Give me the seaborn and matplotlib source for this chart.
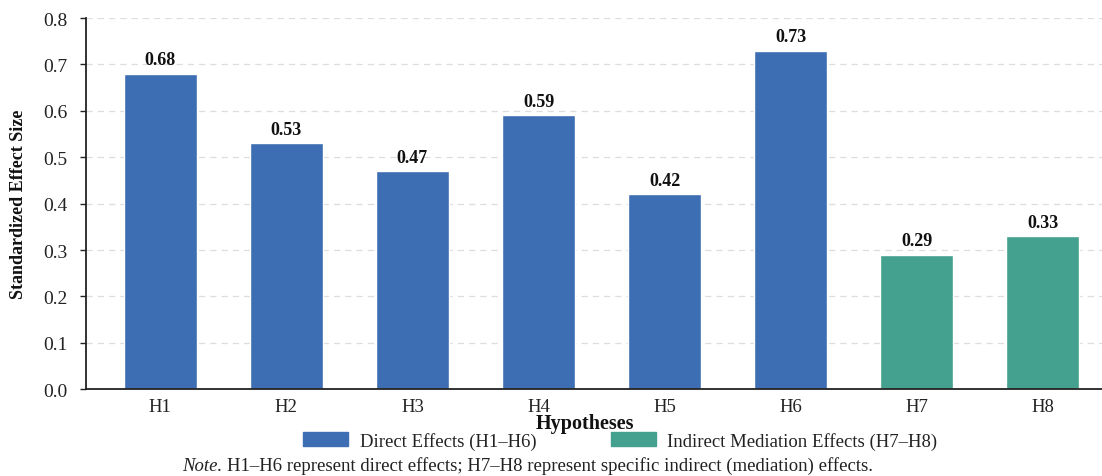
import matplotlib
matplotlib.use("Agg")
import matplotlib.pyplot as plt
import seaborn as sns
import pandas as pd
from matplotlib.patches import Patch

hypotheses = ["H1", "H2", "H3", "H4", "H5", "H6", "H7", "H8"]
effects = [0.68, 0.53, 0.47, 0.59, 0.42, 0.73, 0.29, 0.33]
groups = ["Direct Effects (H1\u2013H6)"] * 6 + ["Indirect Mediation Effects (H7\u2013H8)"] * 2
group_colors = ["#3D6DB3", "#44A08F"]

df = pd.DataFrame({"Hypothesis": hypotheses, "Effect": effects, "Group": groups})

sns.set_theme(style="white")
plt.rcParams["font.family"] = ["Liberation Serif", "DejaVu Serif"]

fig = plt.figure(figsize=(11.02, 4.77), dpi=100)
ax = fig.add_axes([0.078, 0.182, 0.93, 0.778])

palette = dict(zip(dict.fromkeys(groups), group_colors))
sns.barplot(data=df, x="Hypothesis", y="Effect", hue="Group", palette=palette,
            dodge=False, width=0.58, legend=False, ax=ax, saturation=1)

for p, v in zip(ax.patches, effects):
    ax.text(p.get_x() + p.get_width() / 2, v + 0.012, f"{v:.2f}",
            ha="center", va="bottom", fontsize=13, fontweight="bold", color="#111111")

ax.set_ylim(0, 0.8)
ax.set_xlim(-0.59, 7.54)
ax.set_yticks([0.0, 0.1, 0.2, 0.3, 0.4, 0.5, 0.6, 0.7, 0.8])
ax.set_yticklabels([f"{t:.1f}" for t in ax.get_yticks()])
ax.yaxis.grid(True, linestyle=(0, (5, 4)), color="#DDDDDD", linewidth=0.9)
ax.set_axisbelow(True)
for s in ["top", "right"]:
    ax.spines[s].set_visible(False)
for s in ["left", "bottom"]:
    ax.spines[s].set_color("#222222")
    ax.spines[s].set_linewidth(1.3)
ax.tick_params(axis="y", left=True, length=4.5, width=1, labelsize=14, colors="#222222", pad=9)
ax.tick_params(axis="x", bottom=False, labelsize=13.5, pad=0)
for lbl in ax.get_yticklabels() + ax.get_xticklabels():
    lbl.set_color("#222222")

ax.set_xlabel("Hypotheses", fontsize=14.5, fontweight="bold", color="#111111")
ax.xaxis.set_label_coords(0.487, -0.091)
ax.xaxis.label.set_va("center")
ax.set_ylabel("Standardized Effect Size", fontsize=13, fontweight="bold", color="#111111")
ax.yaxis.set_label_coords(-0.066, 0.5)
ax.yaxis.label.set_va("center")

handles = [Patch(facecolor=c, edgecolor=c, label=g) for g, c in palette.items()]
fig.legend(handles=handles, loc="center", bbox_to_anchor=(0.563, 0.0735), ncol=2,
           frameon=False, fontsize=13.5, handlelength=2.4, handleheight=0.75,
           columnspacing=4.0, handletextpad=0.6, labelcolor="#222222")

fig.text(0.165, 0.023, "Note.", fontsize=13.5, style="italic", ha="left", va="center", color="#222222")
fig.text(0.206, 0.023,
         "H1\u2013H6 represent direct effects; H7\u2013H8 represent specific indirect (mediation) effects.",
         fontsize=13.5, ha="left", va="center", color="#222222")

fig.savefig("out.png", dpi=100, facecolor="white")
